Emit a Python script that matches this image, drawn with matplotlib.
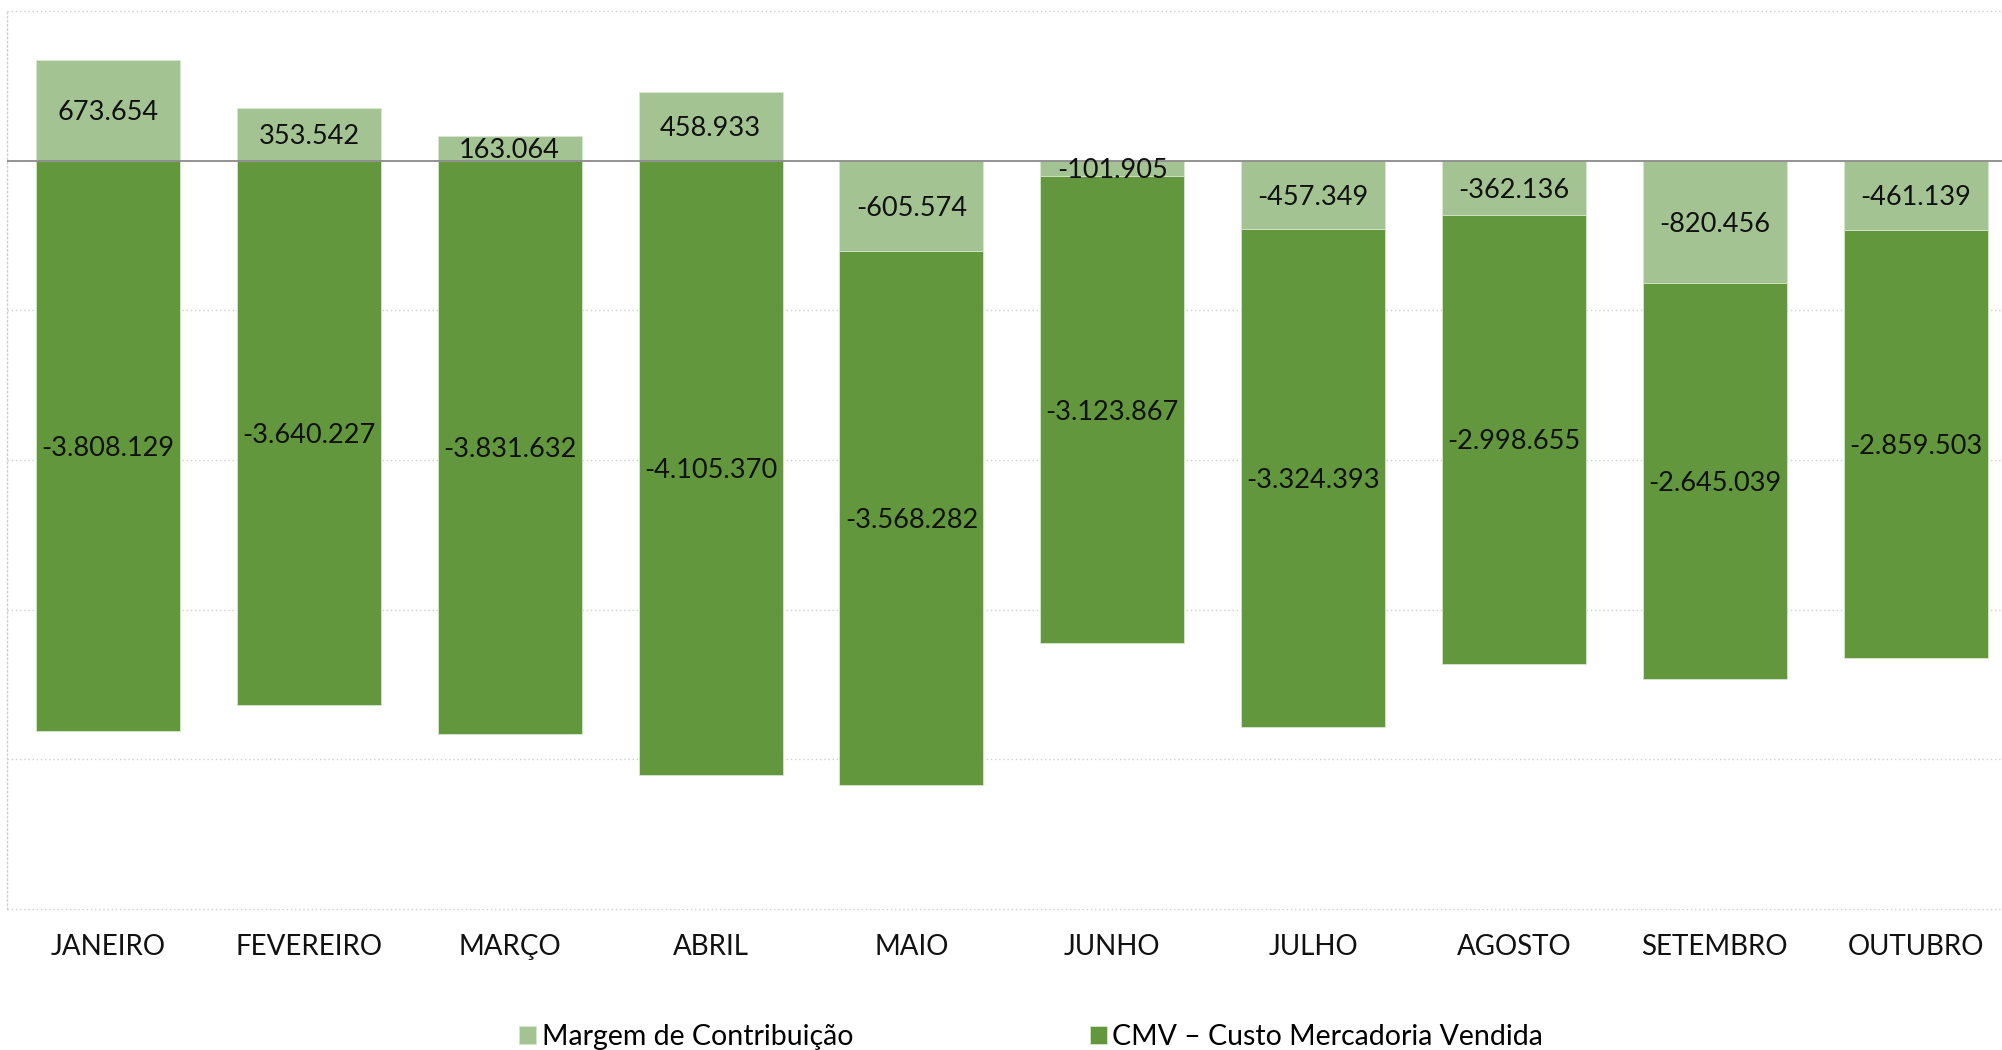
import matplotlib.pyplot as plt
import numpy as np

meses = ['JANEIRO', 'FEVEREIRO', 'MARÇO', 'ABRIL', 'MAIO', 'JUNHO',
         'JULHO', 'AGOSTO', 'SETEMBRO', 'OUTUBRO']
margem = [673654, 353542, 163064, 458933, -605574, -101905,
          -457349, -362136, -820456, -461139]
cmv = [-3808129, -3640227, -3831632, -4105370, -3568282, -3123867,
       -3324393, -2998655, -2645039, -2859503]

c_margem = '#A3C492'
c_cmv = '#62973D'


def fmt(v):
    return f'{v:,.0f}'.replace(',', '.')


plt.rcParams['font.family'] = ['Lato', 'DejaVu Sans']

fig = plt.figure(figsize=(20.02, 10.5), dpi=100)
ax = fig.add_axes([0.0035, 0.1343, 0.9965, 0.8552])

x = np.arange(len(meses))
margem = np.array(margem)
cmv = np.array(cmv)
# margem negativa fica logo abaixo do zero, cmv empilhado abaixo dela
cmv_base = np.where(margem < 0, margem, 0)
w = 0.717

ax.bar(x, margem, w, color=c_margem, edgecolor='#d8e6cf', linewidth=0.6,
       label='Margem de Contribuição', zorder=2)
ax.bar(x, cmv, w, bottom=cmv_base, color=c_cmv, edgecolor='#d8e6cf',
       linewidth=0.6, label='CMV – Custo Mercadoria Vendida', zorder=2)

for i in range(len(x)):
    ax.text(x[i], margem[i] / 2, fmt(margem[i]), ha='center',
            va='center_baseline', fontsize=19.5, color='#111111', zorder=4)
    ax.text(x[i], cmv_base[i] + cmv[i] / 2, fmt(cmv[i]), ha='center',
            va='center_baseline', fontsize=19.5, color='#111111', zorder=4)

ax.axhline(0, color='#8a8a8a', linewidth=1.3, zorder=3)

ax.set_ylim(-5000000, 1000000)
ax.set_xlim(-0.503, 9.43)
for g in np.arange(-5000000, 1000001, 1000000):
    if g != 0:
        ax.axhline(g, color='#cfcfcf', linestyle=(0, (1, 2)), linewidth=1.0,
                   zorder=0, clip_on=False)
ax.set_yticks([])
ax.tick_params(axis='x', length=0, pad=18)
ax.set_xticks(x)
ax.set_xticklabels(meses, fontsize=20, color='#111111')
for s in ['top', 'right', 'bottom']:
    ax.spines[s].set_visible(False)
ax.spines['left'].set_color('#cfcfcf')
ax.spines['left'].set_linestyle((0, (1, 2)))
ax.spines['left'].set_linewidth(1.0)

fig.legend(loc='center', bbox_to_anchor=(0.515, 0.012), ncol=2, frameon=False,
           fontsize=20.5, handlelength=0.6, handleheight=0.6, handletextpad=0.2,
           columnspacing=8.3)

fig.savefig('out.png', dpi=100)
